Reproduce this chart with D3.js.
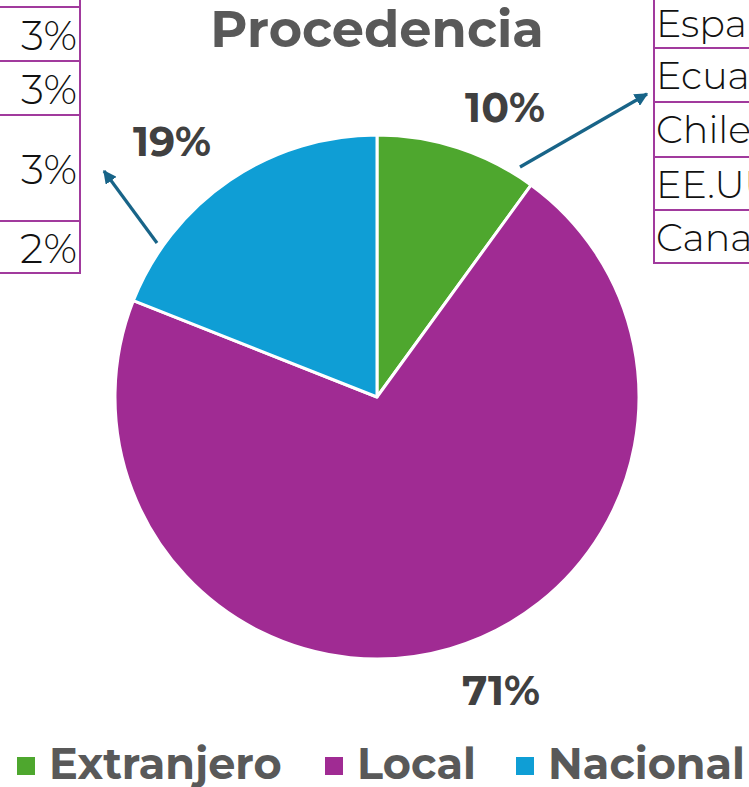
<!DOCTYPE html>
<html><head><meta charset="utf-8">
<script src="https://cdn.jsdelivr.net/npm/d3@7"></script>
<style>body{margin:0;background:#fff;} svg{display:block;}</style>
</head><body>
<script>
const categories = ["Extranjero", "Local", "Nacional"];
const values = [10, 71, 19];
const colors = ["#4ea72e", "#a02b93", "#0f9ed5"];
const leftTableLabels = ["3%", "3%", "3%", "2%"];
const rightTableLabels = ["España", "Ecuador", "Chile", "EE.UU", "Canadá"];
const title = "Procedencia";

const W = 749, H = 787;
const svg = d3.select("body").append("svg").attr("width", W).attr("height", H);
const font = "Montserrat, 'DejaVu Sans', sans-serif";

// Title
svg.append("text").attr("x", 377).attr("y", 47).attr("text-anchor", "middle")
  .attr("font-family", font).attr("font-weight", "bold").attr("font-size", 51)
  .attr("fill", "#595959").text(title);

// Pie
const cx = 377, cy = 397, R = 262;
const pie = d3.pie().sort(null).value(d => d)(values);
const arc = d3.arc().innerRadius(0).outerRadius(R);
const g = svg.append("g").attr("transform", `translate(${cx},${cy})`);
g.selectAll("path").data(pie).join("path")
  .attr("d", arc).attr("fill", (d, i) => colors[i])
  .attr("stroke", "#fff").attr("stroke-width", 3).attr("stroke-linejoin", "round");

// Percentage labels (Extranjero, Local, Nacional)
const labelPos = [[505, 122], [501, 705], [172, 156]];
svg.selectAll("text.pct").data(values).join("text").attr("class", "pct")
  .attr("x", (d, i) => labelPos[i][0]).attr("y", (d, i) => labelPos[i][1])
  .attr("text-anchor", "middle").attr("font-family", font).attr("font-weight", "bold")
  .attr("font-size", 41).attr("fill", "#404040").text(d => d + "%");

// Arrows
const defs = svg.append("defs");
defs.append("marker").attr("id", "ah").attr("viewBox", "0 0 10 10").attr("refX", 9).attr("refY", 5)
  .attr("markerWidth", 4.2).attr("markerHeight", 4.2).attr("orient", "auto")
  .append("path").attr("d", "M0,0 L10,5 L0,10 z").attr("fill", "#186488");
[[520, 167, 647, 94], [157, 243, 104, 171]].forEach(a => {
  svg.append("line").attr("x1", a[0]).attr("y1", a[1]).attr("x2", a[2]).attr("y2", a[3])
    .attr("stroke", "#186488").attr("stroke-width", 3.2).attr("marker-end", "url(#ah)");
});

// Left table
const border = "#a13a9d";
const leftRows = [[7, 61], [61, 115], [115, 221], [221, 273]];
const lt = svg.append("g");
lt.append("rect").attr("x", -10).attr("y", -20).attr("width", 90).attr("height", 293)
  .attr("fill", "none").attr("stroke", border).attr("stroke-width", 2);
leftRows.forEach((r, i) => {
  lt.append("line").attr("x1", -10).attr("x2", 80).attr("y1", r[0]).attr("y2", r[0])
    .attr("stroke", border).attr("stroke-width", 2);
  lt.append("text").attr("x", 77).attr("y", (r[0] + r[1]) / 2 + 16).attr("text-anchor", "end")
    .attr("font-family", font).attr("font-weight", 300).attr("font-size", 41)
    .attr("fill", "#111").text(leftTableLabels[i]);
});

// Right table
const rightTops = [-4, 48, 102, 157, 210];
const rt = svg.append("g");
rt.append("rect").attr("x", 654).attr("y", -4).attr("width", 200).attr("height", 267)
  .attr("fill", "none").attr("stroke", border).attr("stroke-width", 2);
rightTops.forEach((t, i) => {
  rt.append("line").attr("x1", 654).attr("x2", 760).attr("y1", t).attr("y2", t)
    .attr("stroke", border).attr("stroke-width", 2);
  rt.append("text").attr("x", 656).attr("y", t + 41).attr("font-family", font)
    .attr("font-weight", 300).attr("font-size", 38).attr("fill", "#111").text(rightTableLabels[i]);
});

// Legend
const legX = [17, 325, 516];
categories.forEach((c, i) => {
  svg.append("rect").attr("x", legX[i]).attr("y", 757).attr("width", 18).attr("height", 18)
    .attr("fill", colors[i]);
  svg.append("text").attr("x", legX[i] + 32).attr("y", 779).attr("font-family", font)
    .attr("font-weight", "bold").attr("font-size", 43).attr("fill", "#595959").text(c);
});
</script>
</body></html>
